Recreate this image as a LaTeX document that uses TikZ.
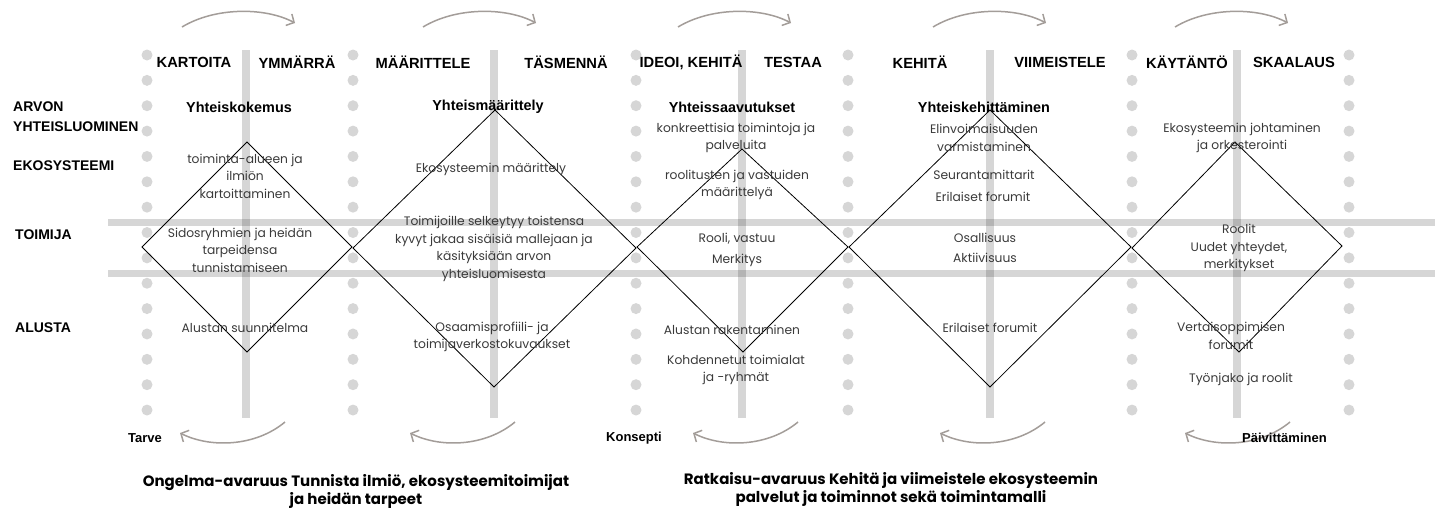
\documentclass[tikz,border=0pt]{standalone}
\usepackage{fontspec}
\setmainfont{Liberation Sans}
\newfontfamily\bodyfont{Poppins}
\usetikzlibrary{arrows.meta}
\definecolor{dotgray}{HTML}{D6D6D6}
\definecolor{txtgray}{HTML}{3A3A3A}
\definecolor{arrowgray}{HTML}{A39D99}

\begin{document}
\begin{tikzpicture}[x=1pt,y=-1pt,
  head/.style={font=\fontsize{14.7}{20}\selectfont\bfseries, inner sep=0},
  rowlab/.style={font=\fontsize{14}{20}\selectfont\bfseries, inner sep=0, anchor=west, align=left},
  ttl/.style={font=\fontsize{14.4}{20}\selectfont\bfseries, inner sep=0},
  body/.style={font=\bodyfont\fontsize{12.3}{17.5}\selectfont, text=txtgray, align=center, inner sep=0},
  capt/.style={font=\bodyfont\bfseries\fontsize{15}{18}\selectfont, align=center, inner sep=0},
  phase/.style={font=\fontsize{13}{14}\selectfont\bfseries, inner sep=0, anchor=west},
  bar/.style={fill=black, opacity=0.16},
  diam/.style={draw=black, line width=0.8pt, line join=miter},
  flow/.style={draw=arrowgray, line width=1.5pt, -{Straight Barb[length=6pt,width=13pt]}},
]
\useasboundingbox (0,0) rectangle (1435,515);

% dotted column separators
\foreach \cx in {147,353,636,848,1132,1349}
  \foreach \k in {0,...,14}
    \fill[dotgray] (\cx,55+25.36*\k) circle (5.5);

% translucent grid bars
\foreach \bx in {246,494,742,990,1237}
  \fill[bar] (\bx-3.75,50) rectangle (\bx+3.75,418);
\fill[bar] (108,218.5) rectangle (1435,225.5);
\fill[bar] (108,269.5) rectangle (1435,276.5);

% diamonds
\draw[diam] (247,142) -- (352,247) -- (247,352) -- (142,247) -- cycle;
\draw[diam] (495,110) -- (636,248) -- (494,387) -- (353,248) -- cycle;
\draw[diam] (742,149) -- (848,247) -- (743,352) -- (637,247) -- cycle;
\draw[diam] (990,110) -- (1131,247) -- (990,387) -- (849,247) -- cycle;
\draw[diam] (1235,142) -- (1342,246) -- (1239,352) -- (1132,248) -- cycle;

% forward arrows above the phases
\foreach \s [count=\i] in {182,423,678,933,1175}{
  \coordinate (fa\i) at (\s,27);
  \coordinate (fb\i) at (\s+113,23);
  \draw[flow] (fa\i) .. controls +(33,-20) and +(-30,-16) .. (fb\i);
}
% return arrows below the phases
\foreach \s [count=\i] in {285,515,798,1045,1290}{
  \coordinate (ra\i) at (\s,422);
  \coordinate (rb\i) at (\s-105,433);
  \draw[flow] (ra\i) .. controls +(-30,25) and +(30,15) .. (rb\i);
}

% phase headers
\node[head] (h1a) at (194,62) {KARTOITA};
\node[head] (h1b) at (297,62) {YMMÄRRÄ};
\node[head] (h2a) at (423,62) {MÄÄRITTELE};
\node[head] (h2b) at (566,62) {TÄSMENNÄ};
\node[head] (h3a) at (691,62) {IDEOI, KEHITÄ};
\node[head] (h3b) at (793,62) {TESTAA};
\node[head] (h4a) at (920,62) {KEHITÄ};
\node[head] (h4b) at (1060,62) {VIIMEISTELE};
\node[head] (h5a) at (1187,62) {KÄYTÄNTÖ};
\node[head] (h5b) at (1294,62) {SKAALAUS};

% row labels
\node[rowlab] (r1) at (13,117) {ARVON\\YHTEISLUOMINEN};
\node[rowlab] (r2) at (13,166) {EKOSYSTEEMI};
\node[rowlab] (r3) at (15,235) {TOIMIJA};
\node[rowlab] (r4) at (15,328) {ALUSTA};

% phase titles
\node[ttl] (t1) at (239,107) {Yhteiskokemus};
\node[ttl] (t2) at (488,107) {Yhteismäärittely};
\node[ttl] (t3) at (732,107) {Yhteissaavutukset};
\node[ttl] (t4) at (984,107) {Yhteiskehittäminen};

% phase contents
\node[body] (b11) at (245,176) {toiminta-alueen ja\\ilmiön\\kartoittaminen};
\node[body] (b12) at (240,250) {Sidosryhmien ja heidän\\tarpeidensa\\tunnistamiseen};
\node[body] (b13) at (245,328) {Alustan suunnitelma};

\node[body] (b21) at (491,169) {Ekosysteemin määrittely};
\node[body] (b22) at (494,249) {Toimijoille selkeytyy toistensa\\kyvyt jakaa sisäisiä mallejaan ja\\käsityksiään arvon\\yhteisluomisesta};
\node[body] (b23) at (492,337) {Osaamisprofiili- ja\\toimijaverkostokuvaukset};

\node[body] (b31) at (736,138) {konkreettisia toimintoja ja\\palveluita};
\node[body] (b32) at (737,185) {roolitusten ja vastuiden\\määrittelyä};
\node[body] (b33) at (737,250) {Rooli, vastuu\\[3pt]Merkitys};
\node[body] (b34) at (732,330) {Alustan rakentaminen};
\node[body] (b35) at (736,370) {Kohdennetut toimialat\\ja -ryhmät};

\node[body] (b41) at (984,138) {Elinvoimaisuuden\\varmistaminen};
\node[body] (b42) at (984,175) {Seurantamittarit};
\node[body] (b43) at (983,197) {Erilaiset forumit};
\node[body] (b44) at (985,248) {Osallisuus\\[2pt]Aktiivisuus};
\node[body] (b45) at (990,328) {Erilaiset forumit};

\node[body] (b51) at (1242,138) {Ekosysteemin johtaminen\\ja orkesterointi};
\node[body] (b52) at (1239,248) {Roolit\\Uudet yhteydet,\\merkitykset};
\node[body] (b53) at (1231,336) {Vertaisoppimisen\\forumit};
\node[body] (b54) at (1241,379) {Työnjako ja roolit};

% stage labels along the bottom
\node[phase] (p1) at (128,438) {Tarve};
\node[phase] (p2) at (606,438) {Konsepti};
\node[phase] (p3) at (1242,438) {Päivittäminen};

% space captions
\node[capt] (c1) at (356,491) {Ongelma-avaruus Tunnista ilmiö, ekosysteemitoimijat\\ja heidän tarpeet};
\node[capt] (c2) at (891,489) {Ratkaisu-avaruus Kehitä ja viimeistele ekosysteemin\\palvelut ja toiminnot sekä toimintamalli};
\end{tikzpicture}
\end{document}
